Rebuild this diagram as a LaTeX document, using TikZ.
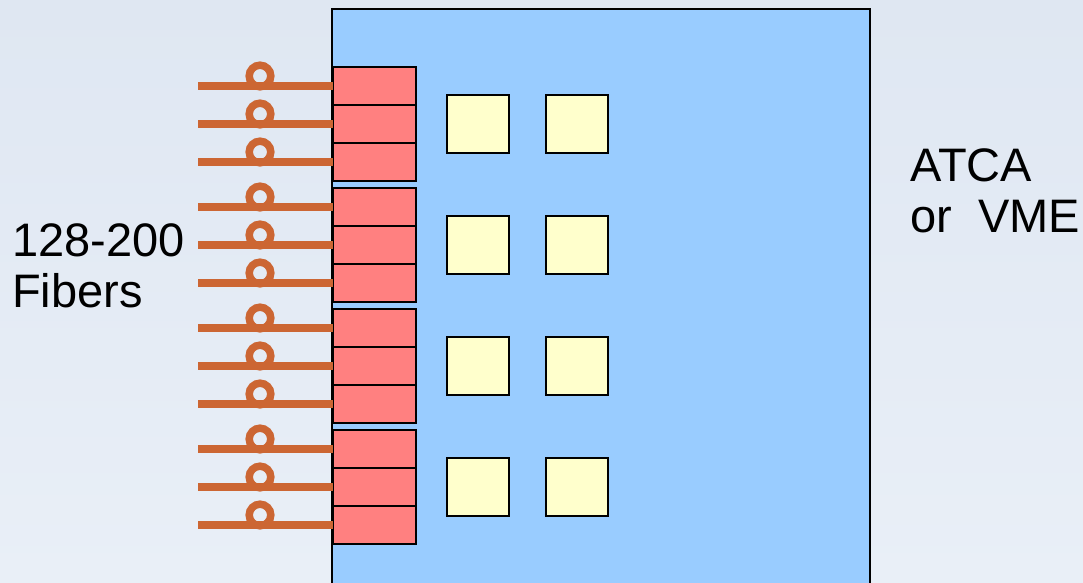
\documentclass[tikz,border=0pt]{standalone}
\usepackage{fontspec}
\setmainfont{Liberation Sans}
\usepackage{xcolor}
\usetikzlibrary{positioning,calc}
\definecolor{bgtop}{HTML}{DFE7F2}
\definecolor{bgbot}{HTML}{E9EFF7}
\definecolor{boardblue}{HTML}{99CCFF}
\definecolor{portred}{HTML}{FF8080}
\definecolor{chipyellow}{HTML}{FFFFCC}
\definecolor{fibre}{HTML}{CC6633}

\begin{document}
\begin{tikzpicture}[
    x=1pt, y=-1pt,
    port/.style={draw=black, line width=1.2pt, fill=portred, anchor=north west, inner sep=0pt, outer sep=0pt, minimum width=83pt, minimum height=38pt},
    chip/.style={draw=black, line width=1.2pt, fill=chipyellow, anchor=north west, inner sep=0pt, outer sep=0pt, minimum width=62pt, minimum height=58pt},
    fibreline/.style={draw=fibre, line width=7.5pt},
    bigtext/.style={font=\fontsize{47}{52}\selectfont, inner sep=0pt, anchor=base west}
]
\useasboundingbox (0,0) rectangle (1083,582);
\clip (0,0) rectangle (1083,582);
\shade[top color=bgtop, bottom color=bgbot] (0,0) rectangle (1083,582);

% carrier board
\node[draw=black, line width=1.5pt, fill=boardblue, anchor=north west, inner sep=0pt, outer sep=0pt,
      minimum width=538pt, minimum height=600pt] (board) at (332,9) {};

% fibre ports, three per group
\foreach \g in {0,...,3} {
    \foreach \c in {0,1,2} {
        \node[port] (port-\g-\c) at (333,{67+121*\g+38*\c}) {};
        \coordinate (fin-\g-\c) at ($(port-\g-\c.west)+(-135,0)$);
        \draw[fibreline] (fin-\g-\c) -- (port-\g-\c.west);
        \draw[fibreline] ($(fin-\g-\c)+(62,-10)$) circle (10.8);
    }
}

% processing chips
\foreach \g in {0,...,3} {
    \node[chip] (chipa-\g) at (447,{95+121*\g}) {};
    \node[chip] (chipb-\g) at (546,{95+121*\g}) {};
}

\node[bigtext] (count) at (12,256) {128-200};
\node[bigtext] (fibres) at (12,307) {Fibers};
\node[bigtext] (atca) at (910,181) {ATCA};
\node[bigtext] (vme) at (910,232) {or\ \ VME};
\end{tikzpicture}
\end{document}
